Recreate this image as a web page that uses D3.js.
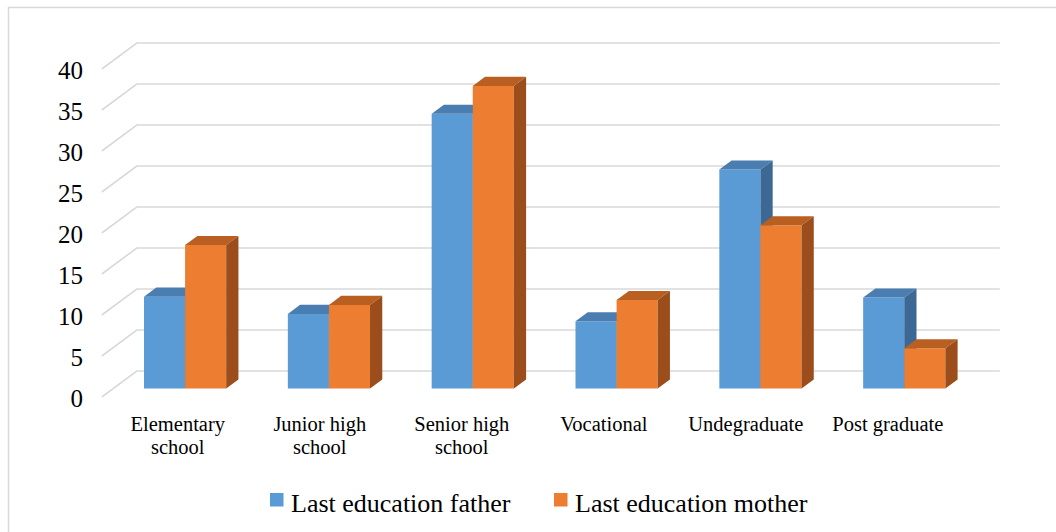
<!DOCTYPE html>
<html>
<head>
<meta charset="utf-8">
<script src="https://cdn.jsdelivr.net/npm/d3@7"></script>
<style>
  html, body { margin: 0; padding: 0; background: #fff; }
  svg { display: block; }
</style>
</head>
<body>
<svg id="chart" width="1056" height="532"></svg>
<script>
const categories = [["Elementary", "school"], ["Junior high", "school"], ["Senior high", "school"], ["Vocational"], ["Undegraduate"], ["Post graduate"]];
const seriesNames = ["Last education father", "Last education mother"];
const fatherValues = [11.2, 9.1, 33.5, 8.2, 26.7, 11.1];
const motherValues = [17.5, 10.2, 36.9, 10.8, 19.9, 4.9];
const yTicks = [0, 5, 10, 15, 20, 25, 30, 35, 40];

const seriesValues = [fatherValues, motherValues];
const colors = [
  { front: "#5b9bd5", top: "#4a7db0", side: "#3d6893" },
  { front: "#ed7d31", top: "#b95f22", side: "#9b4e1c" }
];

const svg = d3.select("#chart");
const font = "'Liberation Serif', 'Times New Roman', 'DejaVu Serif', serif";

// chart border
svg.append("rect").attr("x", 8.5).attr("y", 7.5).attr("width", 1060).attr("height", 540)
  .attr("fill", "none").attr("stroke", "#d9d9d9").attr("stroke-width", 1.5);

const catIdx = categories.map((c, i) => i);
const x = d3.scaleBand().domain(catIdx).range([101.8, 964.8]).paddingInner(0).paddingOuter(0);
const xLabel = d3.scaleBand().domain(catIdx).range([106.8, 958.8]);
const y = d3.scaleLinear().domain([0, 40]).range([397, 69]);
const DX = 35, DY = -26;
const proj = (px, v, d) => [px + DX * d, y(v) + DY * d];

const bw = x.bandwidth();
const barW = bw / 3.5;
const xs = d3.scaleBand().domain([0, 1]).range([(bw - 2 * barW) / 2, (bw + 2 * barW) / 2]);
const d0 = 0.325, d1 = 0.675;

// gridlines (back wall + left wall diagonals)
const grid = svg.append("g").attr("stroke", "#d9d9d9").attr("stroke-width", 1.6).attr("fill", "none");
yTicks.forEach(v => {
  const a = proj(x.range()[0], v, 0), b = proj(x.range()[0], v, 1), c = proj(x.range()[1], v, 1);
  grid.append("path").attr("d", `M${a[0]},${a[1]}L${b[0]},${b[1]}L${c[0]},${c[1]}`);
});

// y tick labels
svg.append("g").selectAll("text").data(yTicks).join("text")
  .attr("x", 83).attr("y", d => y(d) + 1)
  .attr("text-anchor", "end").attr("dominant-baseline", "central")
  .attr("font-family", font).attr("font-size", 25).attr("fill", "#000")
  .text(d => d);

// bars
const bars = svg.append("g");
catIdx.forEach(i => {
  [0, 1].forEach(s => {
    const v = seriesValues[s][i];
    const xl = x(i) + xs(s), xr = xl + barW;
    const p = (px, val, d) => proj(px, val, d).join(",");
    bars.append("path").attr("fill", colors[s].front)
      .attr("d", `M${p(xl, 0, d0)}L${p(xr, 0, d0)}L${p(xr, v, d0)}L${p(xl, v, d0)}Z`);
    bars.append("path").attr("fill", colors[s].top)
      .attr("d", `M${p(xl, v, d0)}L${p(xr, v, d0)}L${p(xr, v, d1)}L${p(xl, v, d1)}Z`);
    bars.append("path").attr("fill", colors[s].side)
      .attr("d", `M${p(xr, 0, d0)}L${p(xr, 0, d1)}L${p(xr, v, d1)}L${p(xr, v, d0)}Z`);
  });
});

// category labels
const cl = svg.append("g").attr("font-family", font).attr("font-size", 20.5).attr("fill", "#000").attr("text-anchor", "middle");
categories.forEach((lines, i) => {
  const cx = xLabel(i) + xLabel.bandwidth() / 2;
  const t = cl.append("text").attr("x", cx).attr("y", 431);
  lines.forEach((ln, k) => t.append("tspan").attr("x", cx).attr("dy", k === 0 ? 0 : 23).text(ln));
});

// legend
const legendX = [270, 554];
const lg = svg.append("g");
seriesNames.forEach((name, s) => {
  lg.append("rect").attr("x", legendX[s]).attr("y", 493).attr("width", 13.5).attr("height", 13.5).attr("fill", colors[s].front);
  lg.append("text").attr("x", legendX[s] + 21).attr("y", 511.5)
    .attr("font-family", font).attr("font-size", 26).attr("fill", "#000").text(name);
});
</script>
</body>
</html>
